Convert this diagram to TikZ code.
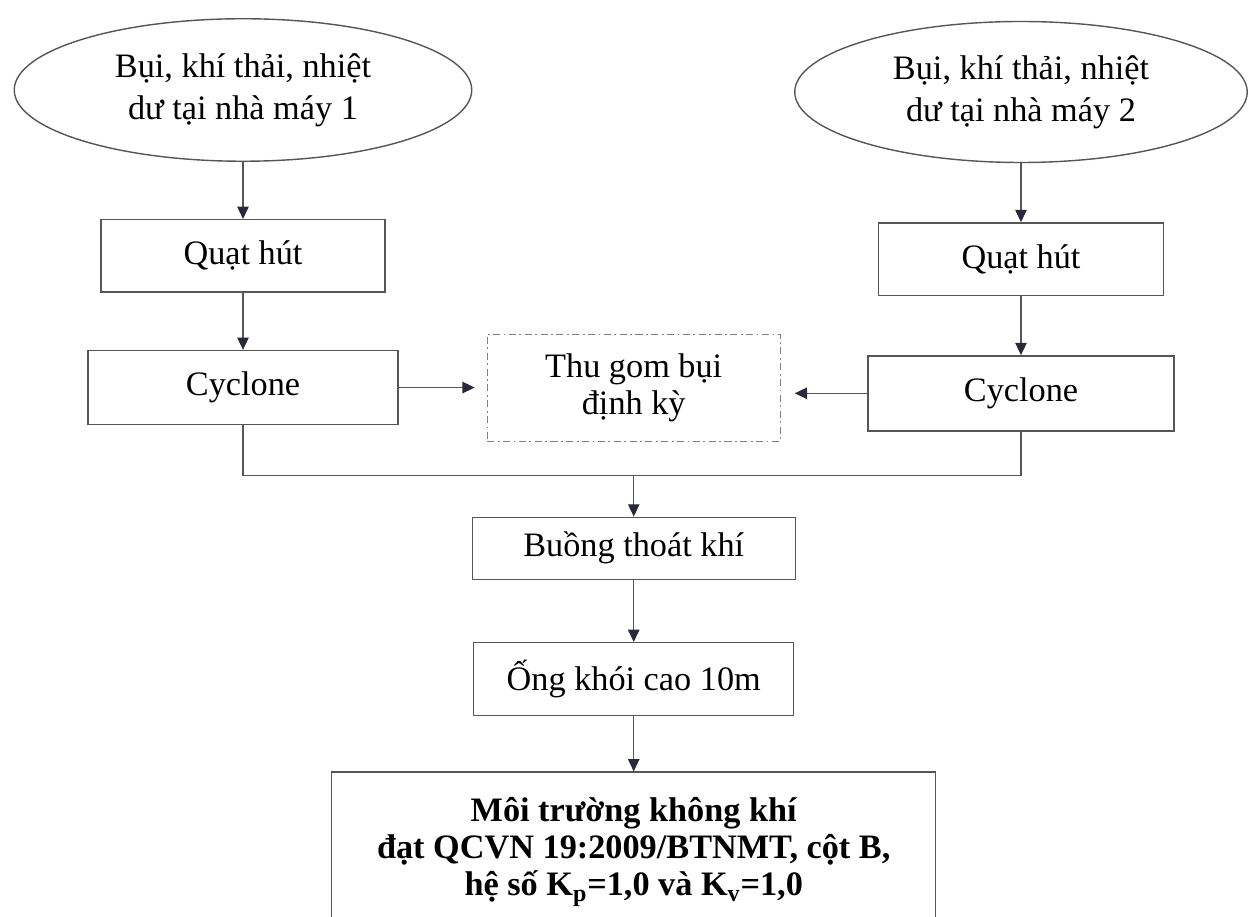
\documentclass[tikz,border=0pt]{standalone}
\usepackage{fontspec}
\setmainfont{Liberation Serif}
\usepackage{xcolor}
\usetikzlibrary{shapes.geometric,positioning,arrows.meta}
\definecolor{linegray}{RGB}{85,85,90}
\definecolor{tipblue}{RGB}{40,42,60}
\tikzset{
  source/.style={ % image of an emission source
    draw=linegray, ellipse, line width=0.8pt,
    minimum width=9.15cm, minimum height=2.85cm,
    inner sep=0pt, align=center, text=black,
    font=\fontsize{19.5}{24}\selectfont
  },
  proc/.style={ % image of a treatment step
    draw=linegray, rectangle, line width=0.8pt,
    minimum height=1.45cm, inner sep=0pt,
    align=center, text=black,
    font=\fontsize{19.5}{23}\selectfont
  },
  store/.style={ % dust taken away now and then
    proc, draw=gray, line width=0.6pt,
    dash pattern=on 4pt off 2pt on 1pt off 2pt,
    font=\fontsize{19.5}{21}\selectfont
  },
  result/.style={ % air quality box at the bottom
    proc, minimum width=12.08cm, minimum height=3.2cm,
    font=\fontsize{19.5}{21}\selectfont\bfseries
  },
  flow/.style={
    ->, draw=linegray
  }
}

\begin{document}
\begin{tikzpicture}[
      >={Triangle[length=7pt,width=6.5pt,color=tipblue]}, line width=0.8pt
    ]
      \useasboundingbox (0,0) rectangle (24.96,-18.34);
      \clip (0,0) rectangle (24.96,-18.34);

      \node[source] (src1) at (4.86,-1.80) {Bụi, khí thải, nhiệt\\dư tại nhà máy 1};
      \node[source, minimum width=9.05cm, minimum height=2.82cm] (src2) at (20.42,-1.84) {Bụi, khí thải, nhiệt\\dư tại nhà máy 2};
      \node[proc, minimum width=5.68cm] (quat1) [below=1.14cm of src1] {Quạt hút};
      \node[proc, minimum width=6.2cm, minimum height=1.48cm] (cyc1) [below=1.14cm of quat1] {Cyclone};
      \node[proc, minimum width=5.7cm] (quat2) [below=1.18cm of src2] {Quạt hút};
      \node[proc, minimum width=6.12cm, minimum height=1.5cm] (cyc2) [below=1.18cm of quat2] {Cyclone};
      \node[store, minimum width=5.86cm, minimum height=2.14cm] (thu) [right=1.76cm of cyc1] {Thu gom bụi\\định kỳ};
      \node[proc, minimum width=6.46cm, minimum height=1.24cm] (buong) [below=1.5cm of thu] {Buồng thoát khí};
      \node[proc, minimum width=6.4cm, minimum height=1.46cm] (ong) [below=1.24cm of buong] {Ống khói cao 10m};
      \node[result] (fin) [below=1.1cm of ong] {Môi trường không khí\\đạt QCVN 19:2009/BTNMT, cột B,\\hệ số K\textsubscript{p}=1,0 và K\textsubscript{v}=1,0};
      \coordinate (merge) at ([yshift=0.82cm]buong.north);

      \draw[flow] (src1) -- (quat1);
      \draw[flow] (quat1) -- (cyc1);
      \draw[flow] (src2) -- (quat2);
      \draw[flow] (quat2) -- (cyc2);
      \draw[flow, shorten >=0.24cm] (cyc1.east) -- (cyc1.east -| thu.west);
      \draw[flow, shorten >=0.28cm] (cyc2.west) -- (cyc2.west -| thu.east);
      \draw[draw=linegray] (cyc1) |- (merge) -| (cyc2);
      \draw[flow] (merge) -- (buong);
      \draw[flow] (buong) -- (ong);
      \draw[flow] (ong) -- (fin);
    \end{tikzpicture}
\end{document}
